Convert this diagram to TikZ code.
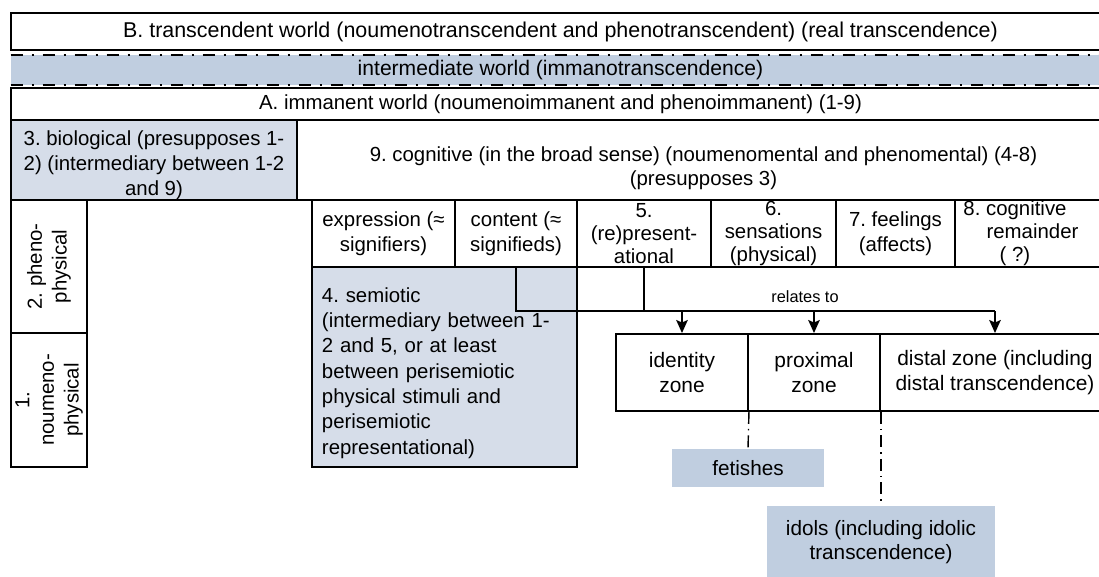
\documentclass[tikz,border=0pt]{standalone}
\usepackage{fontspec}
\setmainfont{Liberation Sans}
\usepackage{tikz}
\usetikzlibrary{arrows.meta}
\usetikzlibrary{calc}
\definecolor{bandblue}{RGB}{192,206,224}
\definecolor{paleblue}{RGB}{214,221,233}
\newcommand{\topgap}[1]{\rule{0pt}{#1}}
\tikzset{
	cell/.style={draw=black, line width=1.1pt, inner xsep=1pt, inner ysep=0pt, align=center, font=\fontsize{11.6pt}{14pt}\selectfont},
	tight/.style={font=\fontsize{11.6pt}{13pt}\selectfont},
	tag/.style={fill=bandblue, inner sep=0pt, align=center, font=\fontsize{11.8pt}{14pt}\selectfont},
	bandline/.style={line width=1.1pt, dash pattern=on 2.4mm off 1.8mm on 0.4mm off 1.8mm},
	zoneline/.style={line width=0.8pt, dash pattern=on 2.4mm off 1mm on 0.3mm off 1mm},
	conn/.style={line width=1.1pt}
}

\begin{document}
\frenchspacing
\begin{tikzpicture}[x=0.2mm, y=-0.2mm, >={Stealth[length=2.6mm,width=2.3mm,inset=0.5mm]}]
	\useasboundingbox (0,0) rectangle (1099,576);
	\clip (0,0) rectangle (1099,576);
	% worlds
	\node[cell, minimum width=219.8mm, minimum height=7.4mm, font=\fontsize{12.2pt}{14pt}\selectfont] (B) at (560.5,31.5) {B. transcendent world (noumenotranscendent and phenotranscendent) (real transcendence)};
	\node[tag, minimum width=219.8mm, minimum height=6mm, font=\fontsize{12pt}{14pt}\selectfont] (I) at (560.5,70) {intermediate world (immanotranscendence)};
	\draw[bandline] (I.north west) -- (I.north east);
	\draw[bandline] (I.south west) -- (I.south east);
	\node[cell, minimum width=219.8mm, minimum height=6.4mm] (A) at (560.5,104) {A. immanent world (noumenoimmanent and phenoimmanent) (1-9)};
	% levels
	\node[cell, fill=paleblue, minimum width=57.2mm, minimum height=16mm] (bio) at (154,160) {\topgap{5mm}3. biological (presupposes 1-\\2) (intermediary between 1-2\\and 9)};
	\node[cell, minimum width=162.6mm, minimum height=16mm] (cog) at (703.5,160) {\topgap{6.2mm}9. cognitive (in the broad sense) (noumenomental and phenomental) (4-8)\\(presupposes 3)};
	\node[cell, rotate=90, minimum width=26.6mm, minimum height=15.2mm] (pheno) at (49,266.5) {2. pheno-\\physical};
	\node[cell, rotate=90, minimum width=26.8mm, minimum height=15.2mm] (noum) at (49,400) {1.\\noumeno-\\physical};
	% parts of the cognitive
	\node[cell, minimum width=28.6mm, minimum height=13.4mm] (expr) at (383.5,233.5) {expression (≈\\signifiers)};
	\node[cell, minimum width=24.4mm, minimum height=13.4mm] (cont) at (516,233.5) {content (≈\\signifieds)};
	\node[cell, tight, minimum width=26.8mm, minimum height=13.4mm] (rep) at (644,233.5) {5.\\(re)present-\\ational};
	\node[cell, tight, minimum width=25mm, minimum height=13.4mm] (sens) at (773.5,233.5) {6.\\sensations\\(physical)};
	\node[cell, minimum width=23.8mm, minimum height=13.4mm] (feel) at (895.5,233.5) {7. feelings\\(affects)};
	\node[cell, tight, minimum width=31mm, minimum height=13.4mm] (rem) at (1032.5,233.5) {8. cognitive\hspace*{7mm}\\remainder\hspace*{7mm}\\( ?)\hspace*{7mm}};
	\node[cell, fill=paleblue, minimum height=40mm, text width=49mm, inner xsep=2mm, align=left, font=\fontsize{11.6pt}{14.4pt}\selectfont] (semio) at (444.5,367) {\topgap{5.3mm}4. semiotic\\(intermediary between 1-\\2 and 5, or at least\\between perisemiotic\\physical stimuli and\\perisemiotic\\representational)};
	% zones
	\node[cell, minimum width=26.4mm, minimum height=15.4mm, font=\fontsize{11.9pt}{14pt}\selectfont] (ident) at (682,372.5) {identity\\zone};
	\node[cell, minimum width=26.4mm, minimum height=15.4mm, font=\fontsize{11.9pt}{14pt}\selectfont] (prox) at (814,372.5) {proximal\\zone};
	\node[cell, minimum width=46mm, minimum height=15.4mm, font=\fontsize{11.9pt}{14pt}\selectfont] (dist) at (995,372.5) {distal zone (including\\distal transcendence)};
	\node[tag, minimum width=30.4mm, minimum height=7.6mm] (fet) at (748,468) {fetishes};
	\node[tag, minimum width=45.6mm, minimum height=14.4mm] (idol) at (881,542) {idols (including idolic\\transcendence)};
	% relates to
	\coordinate (bus) at (0,311);
	\node[font=\fontsize{9.3pt}{11pt}\selectfont] (rel) at (805,297) {relates to};
	\draw[conn] (cont.south) |- (bus -| dist.north);
	\draw[conn] (rep.south) -- (rep.south |- bus);
	\path[conn, ->] (bus -| ident.north) edge (ident.north);
	\path[conn, ->] (bus -| prox.north) edge (prox.north);
	\path[conn, ->] (bus -| dist.north) edge (dist.north);
	\draw[zoneline] (ident.south east) -- (fet.north);
	\draw[zoneline] (prox.south east) -- (prox.south east |- idol.north);
\end{tikzpicture}
\end{document}
